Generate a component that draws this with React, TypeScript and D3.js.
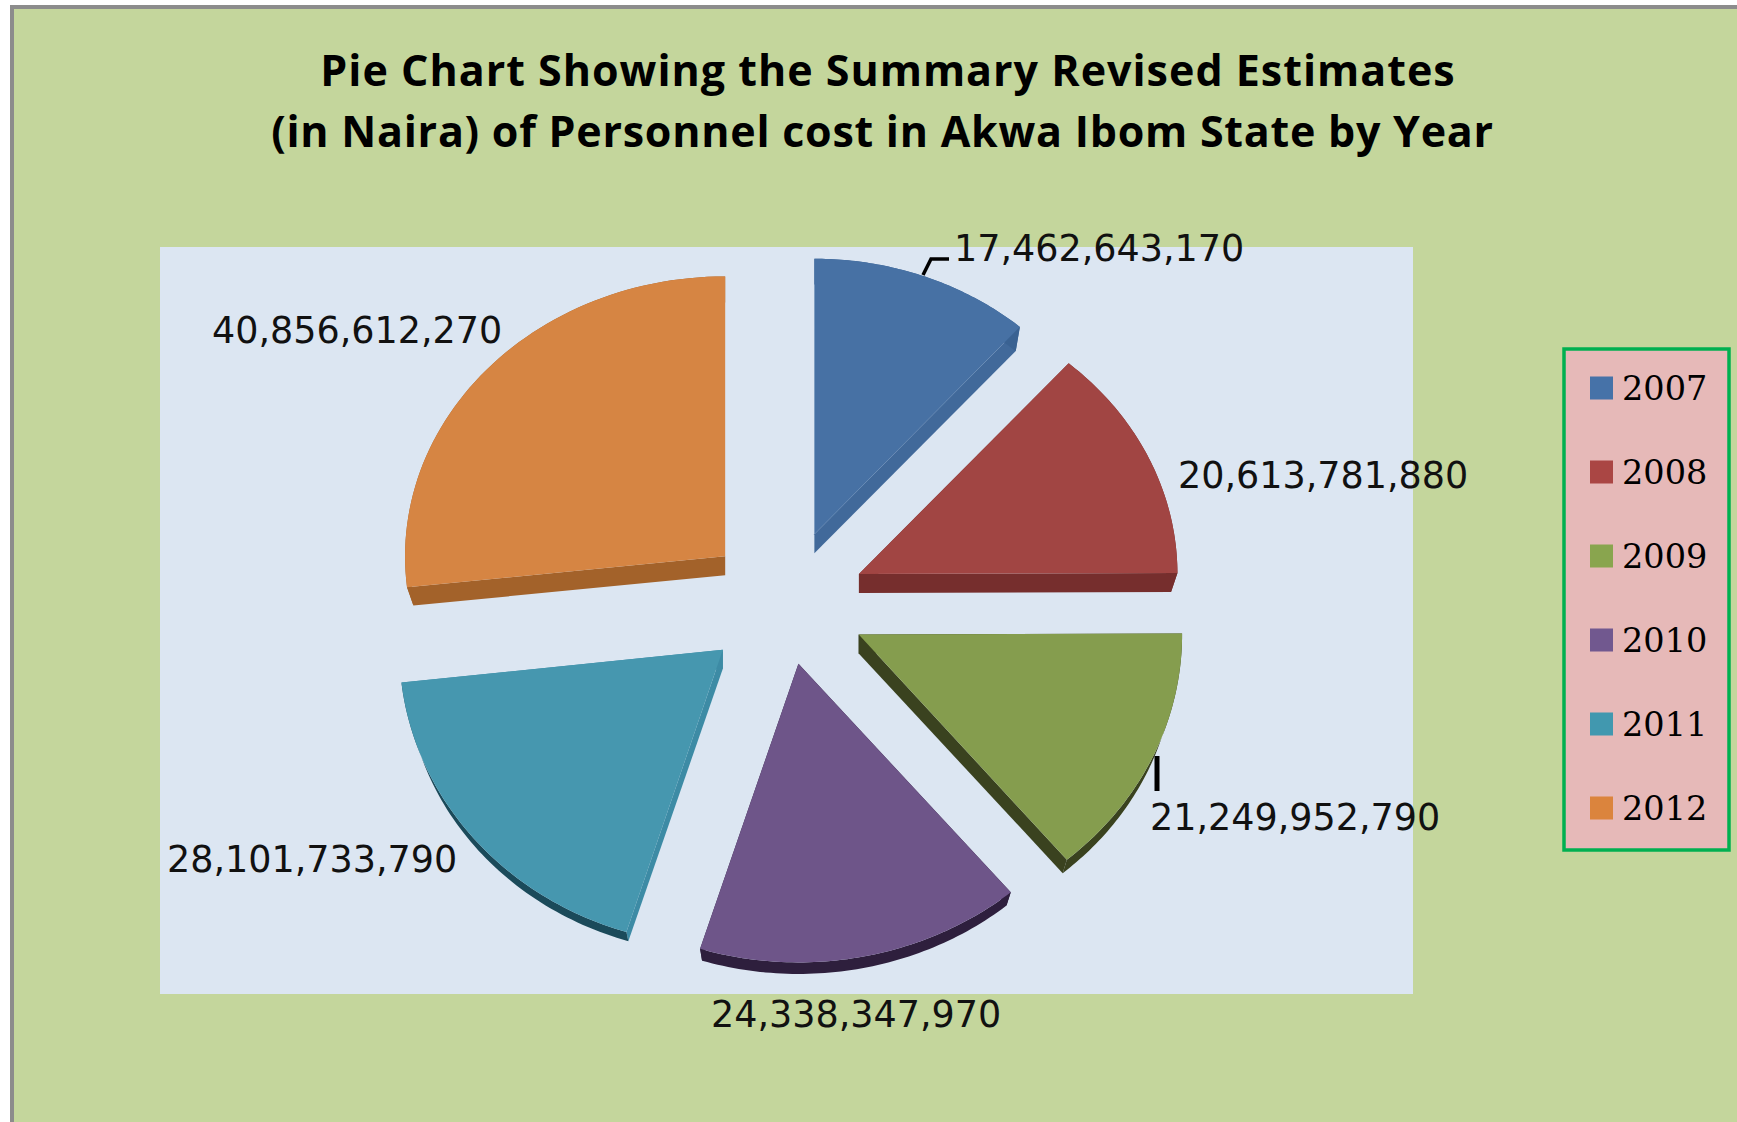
import { useEffect, useRef } from "react"
import * as d3 from "d3"

const titleLines = [
    "Pie Chart Showing the Summary Revised Estimates",
    "(in Naira) of Personnel cost in Akwa Ibom State by Year",
]
const titleX = [888, 882.5]
const titleSpacing = [1.0, 0.75]
const years = ["2007", "2008", "2009", "2010", "2011", "2012"]
const costs = [17462643170, 20613781880, 21249952790, 24338347970, 28101733790, 40856612270]

const topColors = ["#4771a4", "#a14543", "#859d4e", "#6e5589", "#4697af", "#d68543"]
const wallColors = ["#41699a", "#762e2d", "#3a421f", "#2e1f3d", "#3d8ba5", "#a3622a"]
const rimColors = ["#3a6292", "#762e2d", "#3a421f", "#2e1f3d", "#1b4a5a", "#a3622a"]
const legendColors = ["#4672a8", "#aa4644", "#89a54e", "#71588f", "#4198af", "#db843d"]

// how far each slice is pulled out, and the fake perspective of the 3D pie
const explode = [0.257, 0.25, 0.25, 0.21, 0.248, 0.247]
const scaleX = [0.96, 0.98, 0.995, 1.015, 0.995, 0.985]
const scaleY = [0.95, 0.965, 1.015, 1.03, 1.02, 0.965]
const underScaleY = [0.975, 0.975, 0.975, 0.975, 0.965, 0.975]

const labelX = [954, 1178, 1150, 711, 167, 212]
const labelY = [261, 488, 830, 1027, 872, 343]

const WIDTH = 1737
const HEIGHT = 1122
const cx = 785
const cy = 604
const radiusX = 325
const radiusY = 290
const depth = 19

const App = () => {
    const ref = useRef<SVGSVGElement | null>(null)

    useEffect(() => {
        const svg = d3.select(ref.current)
        svg.selectAll("*").remove()

        svg.append("rect")
            .attr("x", 12).attr("y", 7)
            .attr("width", WIDTH).attr("height", HEIGHT)
            .attr("fill", "#c4d69c")
            .attr("stroke", "#8c8c8c")
            .attr("stroke-width", 4)

        svg.append("rect")
            .attr("x", 160).attr("y", 247)
            .attr("width", 1253).attr("height", 747)
            .attr("fill", "#dce6f2")

        svg.append("g")
            .selectAll("text")
            .data(titleLines)
            .join("text")
            .attr("x", (d, i) => titleX[i])
            .attr("y", (d, i) => 86 + i * 61)
            .attr("text-anchor", "middle")
            .attr("font-family", "'Open Sans'")
            .attr("font-weight", 700)
            .attr("font-size", 43)
            .attr("letter-spacing", (d, i) => titleSpacing[i])
            .attr("fill", "#000")
            .text(d => d)

        const arcs = d3.pie<number>().sort(null)(costs)
        const line = d3.line()

        arcs.forEach((arc, i) => {
            const mid = (arc.startAngle + arc.endAngle) / 2
            const apexX = cx + explode[i] * radiusX * Math.sin(mid)
            const apexY = cy - explode[i] * radiusY * Math.cos(mid)
            const rx = radiusX * scaleX[i]
            const ry = radiusY * scaleY[i]

            const top = (a: number, r = 1): [number, number] =>
                [apexX + rx * r * Math.sin(a), apexY - ry * r * Math.cos(a)]
            const bottom = (a: number, r = 1): [number, number] =>
                [apexX + 0.98 * rx * r * Math.sin(a), apexY + depth - underScaleY[i] * ry * r * Math.cos(a)]

            const steps = d3.range(0, 61).map(k => arc.startAngle + (arc.endAngle - arc.startAngle) * k / 60)
            const g = svg.append("g")

            // two radial walls first, then the rim, then the face on top
            ;[arc.startAngle, arc.endAngle].forEach(a => {
                g.append("path")
                    .attr("d", line([top(a, 0), top(a), bottom(a), bottom(a, 0)]) + "Z")
                    .attr("fill", wallColors[i])
            })
            g.append("path")
                .attr("d", line([...steps.map(a => top(a)), ...steps.slice().reverse().map(a => bottom(a))]) + "Z")
                .attr("fill", rimColors[i])
            g.append("path")
                .attr("d", line([top(0, 0), ...steps.map(a => top(a))]) + "Z")
                .attr("fill", topColors[i])
        })

        // leader lines
        svg.append("path")
            .attr("d", line([[labelX[0] - 31, labelY[0] + 14], [labelX[0] - 23, labelY[0] - 2], [labelX[0] - 5, labelY[0] - 2]]))
            .attr("fill", "none")
            .attr("stroke", "#000")
            .attr("stroke-width", 3.5)
        svg.append("path")
            .attr("d", line([[labelX[2] + 7, labelY[2] - 74], [labelX[2] + 7, labelY[2] - 39]]))
            .attr("fill", "none")
            .attr("stroke", "#000")
            .attr("stroke-width", 5)

        svg.append("g")
            .selectAll("text")
            .data(costs)
            .join("text")
            .attr("x", (d, i) => labelX[i])
            .attr("y", (d, i) => labelY[i])
            .attr("font-family", "'DejaVu Sans'")
            .attr("font-size", 36.5)
            .attr("fill", "#111")
            .text(d => d3.format(",")(d))

        // legend
        const legendY = d3.scalePoint<string>().domain(years).range([388, 808])

        svg.append("rect")
            .attr("x", 1564).attr("y", 349)
            .attr("width", 165).attr("height", 501)
            .attr("fill", "#e6b9b8")
            .attr("stroke", "#00b050")
            .attr("stroke-width", 3.5)

        const legend = svg.append("g")
            .selectAll("g")
            .data(years)
            .join("g")
            .attr("transform", d => `translate(1590,${legendY(d)})`)

        legend.append("rect")
            .attr("y", -11.5)
            .attr("width", 23)
            .attr("height", 23)
            .attr("fill", (d, i) => legendColors[i])

        legend.append("text")
            .attr("x", 32)
            .attr("y", 11.5)
            .attr("font-family", "'DejaVu Serif'")
            .attr("font-size", 33.5)
            .attr("fill", "#000")
            .text(d => d)
    }, [])

    return <svg ref={ref} width={WIDTH} height={HEIGHT} style={{ position: "absolute", left: 0, top: 0, background: "#fff" }} />
}

export default App
